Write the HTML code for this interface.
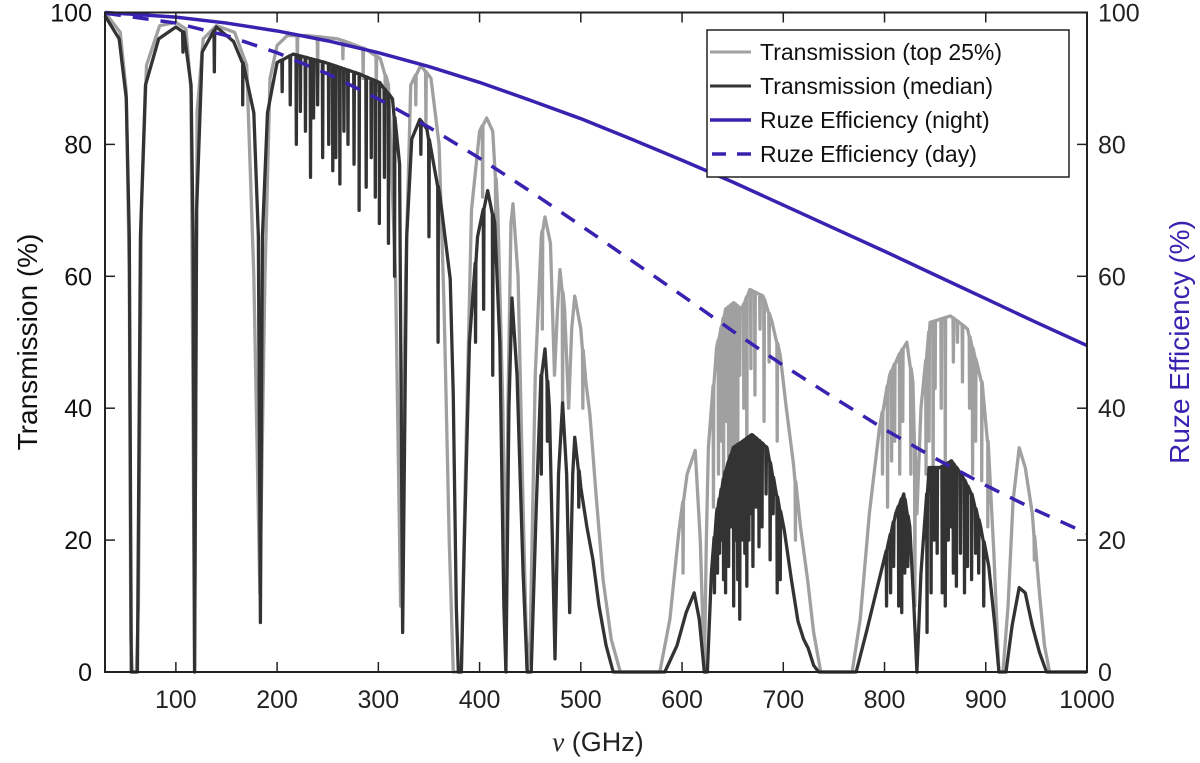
<!DOCTYPE html>
<html><head><meta charset="utf-8"><style>
html,body{margin:0;padding:0;background:#fff;}
svg{display:block;font-family:"Liberation Sans",Arial,sans-serif;}
</style></head><body>
<svg id="chart" width="1200" height="763" viewBox="0 0 1200 763" xmlns="http://www.w3.org/2000/svg">
<g id="plot"></g>
<g id="axes"></g>
<text x="0" y="0" transform="translate(37,342) rotate(-90)" text-anchor="middle" font-size="28" fill="#111">Transmission (%)</text>
<text x="0" y="0" transform="translate(1189,342) rotate(-90)" text-anchor="middle" font-size="28" fill="#3a22b0">Ruze Efficiency (%)</text>
<text x="598" y="751" text-anchor="middle" font-size="27" fill="#222"><tspan font-family="Liberation Serif" font-style="italic">ν</tspan> (GHz)</text>
<g>
<rect x="707" y="30" width="362" height="147" fill="#fff" stroke="#222" stroke-width="1.5"/>
<line x1="710" y1="52" x2="751" y2="52" stroke="#a0a0a0" stroke-width="3"/>
<text x="760" y="60" font-size="23" fill="#111">Transmission (top 25%)</text>
<line x1="710" y1="86" x2="751" y2="86" stroke="#333" stroke-width="3"/>
<text x="760" y="94" font-size="23" fill="#111">Transmission (median)</text>
<line x1="710" y1="120" x2="751" y2="120" stroke="#3a22b0" stroke-width="3.5"/>
<text x="760" y="128" font-size="23" fill="#111">Ruze Efficiency (night)</text>
<line x1="712" y1="154" x2="751" y2="154" stroke="#3a22b0" stroke-width="3.5" stroke-dasharray="14,11"/>
<text x="760" y="162" font-size="23" fill="#111">Ruze Efficiency (day)</text>
</g>
</svg>
<script>
const medFreq=[30,44,51,54,56,62,65,70,83,100,108,115,117,118.5,120.5,126,140,157,166,177,181.5,183.5,185.5,190.5,200,216,248,281,301,314,321,324,328,333,341,348,361,371,374,377,379,382,385,390,398,408,415,420,424,426,429,432,437,443,447,451,456,461,464.6,469,474.5,478,482,486,489,492,494,500,506,512,518,525,532,583,595,604,612,617,622,625,629,634,642,650.5,660,669,677,684,692,701,708,714.5,720,724.6,730,735,772,782,792,803,811,819,825,829,832,836,844,855,866,876,886,895,903,909,913,920,926,933,939,946,953,960,1000];
const medVal=[99.5,96,87,66,0,0,66,89,96,97.8,97,89,66,0,70,94,97.8,95.6,92.4,84.8,66,7.5,66,84.8,92.4,93.7,92.4,90.7,89.4,86.9,77,6,66,80.8,83.8,82.3,72,59.6,42,10,0,0,20,50,66,73,68,50,10,0,40,56.7,45,15,0,0,25,45,49,40,2,30,40.8,30,9,30,35.6,28,22,17,10,4,0,0,4,9,12,8,0,0,15,24,30,34,35,36,35,34,28,21.5,14,7.7,5,3.6,1,0,0,6,12.3,19,24,27,22,10,0,15,31,31,32,30,27,22,16,7,0,0,7,12.8,12,7,3,0,0];
const medSpikeFreq=[107,138,166,205,213,219,223,228,233,236,240,245,251,255,258,262,266,270,276,281,288,293,297,301,306,310,316,342,350,359,396,404,413,461,467,498,632,635,637,639,641,643,646,648,651,653,655,657,660,662,664,666,668,670,673,676,679,683,687,690,694,697,802,806,809,814,817,820,823,842,846,849,852,857,860,863,866,868,871,875,879,882,886,890,893,898];
const medSpikeVal=[94,91,86,88,86,80,85,82,75,84,86,78,80,76,78,74,82,80,77,70,73.5,78,72,68,75,65,60,78.5,66,50,50,55,45,30,35,25,12,15,18,20,14,12,16,22,10,20,14,8,20,18,13,20,24,16,25,19,22,27,17,24,12,14,10,12,16,10,9,15,16,6,12,20,18,12,10,20,22,15,13,18,12,16,14,18,15,10];
const topFreq=[30,45,51,54,55.5,57,61,63,66,71,84,100,110,115,118.5,121,127,140,158,170,177,183,188,193,200,210,230,260,287,302,310,317,322,327,332,342,352,360,365,370,374,382,386,392,400,407,413,418,423,426,428,431,433,438,443,447,450,455,461,464.6,470,474,477,479.4,484,488,491,494,500,505,509,515,522,530,539,578,588,597,605,613,618,622,624,626,634,643,651,659,667,680,689,697,703,710,717,724,730,737,768,776,785,795,805,814,822,828,832,836,845,855,865,874,882,889,896,902,908,913,917,922,927,933,939,946,953,958,963,1000];
const topVal=[100,97,88,60,5,0,0,10,70,92,98,98.5,97.5,88,0,85,96,98,97,92,60,12,60,90,95,96.5,96.5,96,94.5,93,89,60,10,60,89,92,90,80,55,20,0,0,30,70,82,84,82,70,40,10,40,68,71,60,25,0,5,45,66,69,65,45,55,61,55,40,52,57,52,44,39,27,14,5,0,0,8,21.5,30,33.6,20,0,20,34,49,55,56,55,58,57,53,48,40,31.6,22,14,6,0,0,8,24,37,45,48,50,44,24,40,53,53.5,54,53,52,48,44,35,18,0,0,10,26,34,31,24,12,4,0,0];
const topSpikeFreq=[220,240,265,285,298,307,337,347,403,416,462,482,502,601,631,636,639,641,644,646,649,652,655,657,661,664,668,672,677,681,686,694,712,798,803,807,810,815,818,826,830,841,844,848,850,856,860,868,872,877,884,887,890,896,902,948];
const topSpikeVal=[92,91,93,90,88,86,86,83,72,62,52,40,40,15,25,30,35,28,38,30,25,33,28,45,40,30,46,42,52,38,47,35,20,30,25,32,35,30,38,30,10,30,35,25,43,40,32,47,50,44,40,30,35,29,22,17];
const ruzeFreq=[30,100,150,200,250,300,350,400,450,500,550,600,650,700,750,800,850,900,950,1000];
const ruzeNight=[100,99.3,98.4,97.2,95.7,93.9,91.8,89.4,86.7,83.9,80.8,77.6,74.3,70.8,67.3,63.8,60.2,56.6,53,49.5];
const ruzeDay=[99.9,98.4,96.5,93.9,90.7,86.9,82.6,77.9,72.9,67.7,62.4,57.1,51.7,46.5,41.6,36.8,32.4,28.3,24.5,21];
const xTicks=[100,200,300,400,500,600,700,800,900,1000];
const yTicks=[0,20,40,60,80,100];

const X0=105,X1=1087,Y0=672,Y1=12.5,FMIN=30,FMAX=1000;
function sx(f){return X0+(f-FMIN)/(FMAX-FMIN)*(X1-X0);}
function sy(v){return Y0-v/100*(Y0-Y1);}
const NS="http://www.w3.org/2000/svg";
const plot=document.getElementById('plot'),axes=document.getElementById('axes');
function interp(fs,vs,f){for(let i=1;i<fs.length;i++){if(fs[i]>=f){const t=(f-fs[i-1])/(fs[i]-fs[i-1]);return vs[i-1]+t*(vs[i]-vs[i-1]);}}return vs[vs.length-1];}
function buildPts(fs,vs,sf,sv){
  let pts=fs.map((f,i)=>[f,vs[i]]);
  sf.forEach((f,i)=>{const b=interp(fs,vs,f);pts.push([f-0.35,b]);pts.push([f,Math.min(sv[i],b)]);pts.push([f+0.35,b]);});
  pts.sort((a,b)=>a[0]-b[0]);
  return pts.map(p=>sx(p[0]).toFixed(2)+','+sy(p[1]).toFixed(2)).join(' ');
}
function addLine(pts,color,w,name,dash){
  const p=document.createElementNS(NS,'polyline');
  p.setAttribute('points',pts);p.setAttribute('fill','none');p.setAttribute('stroke',color);
  p.setAttribute('stroke-width',w);p.setAttribute('stroke-linejoin','round');
  if(dash)p.setAttribute('stroke-dasharray',dash);
  
  
  plot.appendChild(p);
}
addLine(buildPts(topFreq,topVal,topSpikeFreq,topSpikeVal),'#a0a0a0',3.3,'series-top25');
addLine(buildPts(medFreq,medVal,medSpikeFreq,medSpikeVal),'#333333',3.3,'series-median');
addLine(ruzeFreq.map((f,i)=>sx(f)+','+sy(ruzeNight[i])).join(' '),'#3a22b0',3.5,'series-ruze-night');
addLine(ruzeFreq.map((f,i)=>sx(f)+','+sy(ruzeDay[i])).join(' '),'#3a22b0',3.5,'series-ruze-day','16,12');

function el(tag,attrs,parent){const e=document.createElementNS(NS,tag);for(const k in attrs)e.setAttribute(k,attrs[k]);parent.appendChild(e);return e;}
const box=el('rect',{x:X0,y:Y1,width:X1-X0,height:Y0-Y1,fill:'none',stroke:'#222','stroke-width':2},axes);


xTicks.forEach(t=>{
  const x=sx(t);
  const a=el('line',{x1:x,y1:Y0,x2:x,y2:Y0-10,stroke:'#222','stroke-width':1.5},axes);
  
  
  const b=el('line',{x1:x,y1:Y1,x2:x,y2:Y1+10,stroke:'#222','stroke-width':1.5},axes);
  
  
  const tx=el('text',{x:x,y:708,'text-anchor':'middle','font-size':25,fill:'#222'},axes);
  tx.textContent=t;
  
  
});
yTicks.forEach(t=>{
  const y=sy(t);
  const a=el('line',{x1:X0,y1:y,x2:X0+10,y2:y,stroke:'#222','stroke-width':1.5},axes);
  
  
  const b=el('line',{x1:X1,y1:y,x2:X1-10,y2:y,stroke:'#222','stroke-width':1.5},axes);
  
  
  const l=el('text',{x:X0-13,y:y+9,'text-anchor':'end','font-size':25,fill:'#111'},axes);
  l.textContent=t;
  
  
  const r=el('text',{x:X1+11,y:y+9,'text-anchor':'start','font-size':25,fill:'#222'},axes);
  r.textContent=t;
  
  
});
</script>
</body></html>
